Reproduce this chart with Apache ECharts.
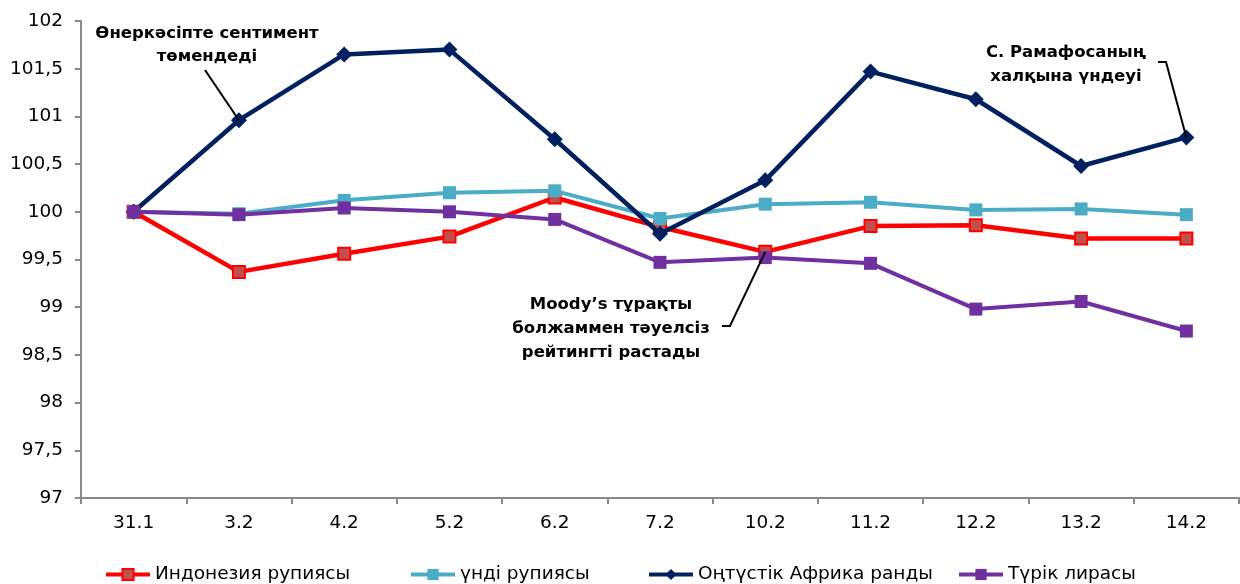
<!DOCTYPE html>
<html>
<head>
<meta charset="utf-8">
<script src="https://cdn.jsdelivr.net/npm/echarts@6/dist/echarts.min.js"></script>
<style>html,body{margin:0;padding:0;background:#fff;}#c{width:1240px;height:584px;}</style>
</head>
<body>
<div id="c"></div>
<script>
var categories = ['31.1','3.2','4.2','5.2','6.2','7.2','10.2','11.2','12.2','13.2','14.2'];
var seriesNames = ['Индонезия рупиясы','үнді рупиясы','Оңтүстік Африка ранды','Түрік лирасы'];
var idr = [100, 99.37, 99.56, 99.74, 100.15, 99.84, 99.58, 99.85, 99.86, 99.72, 99.72];
var inr = [100, 99.98, 100.12, 100.20, 100.22, 99.93, 100.08, 100.10, 100.02, 100.03, 99.97];
var zar = [100, 100.96, 101.65, 101.70, 100.76, 99.77, 100.33, 101.47, 101.18, 100.48, 100.78];
var tryl = [100, 99.97, 100.04, 100.00, 99.92, 99.47, 99.52, 99.46, 98.98, 99.06, 98.75];
var yMin = 97, yMax = 102, yStep = 0.5;
var notes = [
  {text: 'Өнеркәсіпте сентимент\nтөмендеді', series: 2, idx: 1},
  {text: 'С. Рамафосаның\nхалқына үндеуі', series: 2, idx: 10},
  {text: 'Moody’s тұрақты\nболжаммен тәуелсіз\nрейтингті растады', series: 0, idx: 6}
];

var font = '"DejaVu Sans", sans-serif';
var chart = echarts.init(document.getElementById('c'), null, {renderer: 'canvas'});
function mk(name, data, color, lw, symbol, size, fill, z) {
  return {
    name: name, type: 'line', data: data, z: z,
    symbol: symbol, symbolSize: size, showAllSymbol: true,
    lineStyle: {color: color, width: lw},
    itemStyle: {color: fill || color, borderColor: color, borderWidth: fill ? 2 : 0},
    emphasis: {disabled: true},
    animation: false
  };
}
var legendPos = [104, 409, 647, 957];
var option = {
  backgroundColor: '#fff',
  animation: false,
  grid: {left: 81, right: 1, top: 21, bottom: 86},
  legend: seriesNames.map(function (n, i) {
    return {
      data: [n], left: legendPos[i], top: 565, padding: 0, itemWidth: 44, itemHeight: 14, itemGap: 4,
      lineStyle: {width: 4},
      textStyle: {fontFamily: font, fontSize: 18.5, color: '#000'},
      selectedMode: false
    };
  }),
  xAxis: {
    type: 'category', data: categories, boundaryGap: true,
    axisLine: {lineStyle: {color: '#898989', width: 2}},
    axisTick: {show: true, length: 6, lineStyle: {color: '#898989', width: 2}},
    axisLabel: {fontFamily: font, fontSize: 18.5, color: '#000', margin: 16},
    splitLine: {show: false}
  },
  yAxis: {
    type: 'value', min: yMin, max: yMax, interval: yStep,
    axisLine: {show: true, lineStyle: {color: '#898989', width: 2}},
    axisTick: {show: true, length: 6, lineStyle: {color: '#898989', width: 2}},
    axisLabel: {fontFamily: font, fontSize: 18.5, color: '#000', margin: 18,
      formatter: function (v) { return String(v).replace('.', ','); }},
    splitLine: {show: false}
  },
  series: [
    mk(seriesNames[0], idr, '#FF0000', 4.5, 'rect', 12, '#C0504D', 2),
    mk(seriesNames[1], inr, '#4BACC6', 4, 'rect', 13, null, 3),
    mk(seriesNames[2], zar, '#002060', 4.5, 'diamond', 16, null, 4),
    mk(seriesNames[3], tryl, '#7030A0', 4, 'rect', 13, null, 5)
  ]
};
chart.setOption(option);

var data = [idr, inr, zar, tryl];
function pt(n) { return chart.convertToPixel({gridIndex: 0}, [n.idx, data[n.series][n.idx]]); }
var p1 = pt(notes[0]), p2 = pt(notes[1]), p3 = pt(notes[2]);
var txtStyle = function (t, x, y, lh) {
  return {type: 'text', x: x, y: y, z: 10, style: {text: t, fill: '#000', font: 'bold 16.5px ' + font,
    textAlign: 'center', textVerticalAlign: 'top', lineHeight: lh}};
};
var lead = {stroke: '#000', lineWidth: 2, fill: null};
chart.setOption({
  graphic: [
    txtStyle(notes[0].text, 207, 22, 23),
    {type: 'polyline', z: 10, shape: {points: [[205, 70], [p1[0], p1[1]]]}, style: lead},
    txtStyle(notes[1].text, 1066, 41, 24),
    {type: 'polyline', z: 10, shape: {points: [[1158, 62], [1166, 62], [p2[0], p2[1]]]}, style: lead},
    txtStyle(notes[2].text, 611, 293, 24),
    {type: 'polyline', z: 10, shape: {points: [[722, 326], [730, 326], [p3[0], p3[1]]]}, style: lead}
  ]
});
</script>
</body>
</html>
